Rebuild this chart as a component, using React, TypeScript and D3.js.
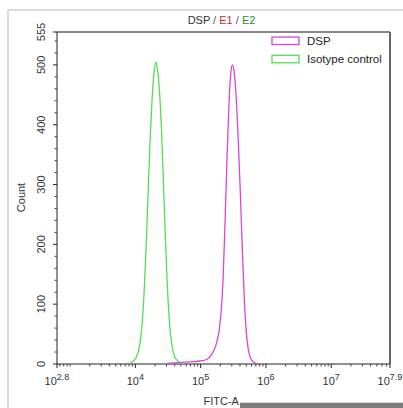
import React from "react";
import * as d3 from "d3";

// Histogram data: log10(FITC-A) vs Count
const isoLog = [3.918, 3.979, 4.025, 4.071, 4.102, 4.132, 4.163, 4.194, 4.224, 4.255, 4.286, 4.312, 4.339, 4.37, 4.401, 4.431, 4.462, 4.492, 4.53, 4.576, 4.638, 4.745];
const isoCount = [1, 6, 14, 35, 65, 115, 190, 280, 370, 440, 487, 505, 492, 455, 390, 300, 205, 125, 60, 22, 6, 0];

const dspLog = [4.485, 4.76, 4.99, 5.097, 5.174, 5.235, 5.281, 5.312, 5.343, 5.373, 5.404, 5.434, 5.465, 5.485, 5.511, 5.542, 5.572, 5.603, 5.634, 5.664, 5.695, 5.733, 5.779, 5.848, 5.879];
const dspCount = [1, 3, 5, 8, 17, 32, 55, 85, 140, 235, 345, 435, 490, 500, 490, 450, 385, 300, 205, 120, 60, 22, 7, 1, 0];

const xTickExps = [2.8, 4, 5, 6, 7, 7.9];
const xTickLabels = ["2.8", "4", "5", "6", "7", "7.9"];
const yTicks = [0, 100, 200, 300, 400, 500, 555];

const seriesNames = ["DSP", "Isotype control"];
const seriesColors = ["#d946d9", "#55dd55"];

export default function App() {
  const W = 403, H = 408;
  const left = 57, right = 390, top = 32, bottom = 364;
  const x = d3.scaleLinear().domain([2.8, 7.9]).range([left, right]);
  const y = d3.scaleLinear().domain([0, 555]).range([bottom, top]);

  const line = d3
    .line<[number, number]>()
    .x((d) => x(d[0]))
    .y((d) => y(d[1]))
    .curve(d3.curveMonotoneX);

  const isoPath = line(isoLog.map((v, i) => [v, isoCount[i]] as [number, number])) || "";
  const dspPath = line(dspLog.map((v, i) => [v, dspCount[i]] as [number, number])) || "";

  // minor x ticks (log)
  const minorX: number[] = [];
  for (let e = 2; e <= 7; e++) {
    for (let m = 1; m <= 9; m++) {
      const v = e + Math.log10(m);
      if (v > 2.8 + 1e-6 && v < 7.9 - 1e-6 && !xTickExps.some((t) => Math.abs(t - v) < 1e-6)) minorX.push(v);
    }
  }
  const minorY = d3.range(20, 555, 20).filter((v) => v % 100 !== 0);

  const font = "'Liberation Sans', Arial, sans-serif";

  return (
    <svg width={W} height={H} style={{ position: "absolute", left: 0, top: 0 }} fontFamily={font}>
      <rect x={0} y={0} width={W} height={H} fill="#fff" />
      {/* outer light frame */}
      <line x1={8} y1={10} x2={W} y2={10} stroke="#dcdcdc" strokeWidth={2} />
      <line x1={8} y1={10} x2={8} y2={H} stroke="#dcdcdc" strokeWidth={2} />

      {/* title */}
      <text x={221.5} y={23.5} fontSize={11} textAnchor="middle" fill="#333">
        <tspan fill="#333">DSP</tspan>
        <tspan fill="#555"> / </tspan>
        <tspan fill="#d42a2a">E1</tspan>
        <tspan fill="#555"> / </tspan>
        <tspan fill="#2e8b2e">E2</tspan>
      </text>

      {/* plot frame */}
      <line x1={left} y1={top} x2={right} y2={top} stroke="#111" strokeWidth={1} />
      <line x1={right} y1={top} x2={right} y2={bottom} stroke="#666" strokeWidth={2} />
      <line x1={left} y1={top} x2={left} y2={bottom} stroke="#222" strokeWidth={1} />
      <line x1={left} y1={bottom} x2={right} y2={bottom} stroke="#222" strokeWidth={1} />

      {/* y ticks */}
      {yTicks.map((t) => (
        <g key={"yt" + t}>
          <line x1={left - 4} x2={left} y1={y(t)} y2={y(t)} stroke="#222" />
          <text
            transform={`translate(${45},${y(t)}) rotate(-90)`}
            textAnchor="middle"
            fontSize={11}
            fill="#333"
          >
            {t}
          </text>
        </g>
      ))}
      {minorY.map((t) => (
        <line key={"ym" + t} x1={left - 2.5} x2={left} y1={y(t)} y2={y(t)} stroke="#444" />
      ))}

      {/* x ticks */}
      {xTickExps.map((e, i) => (
        <g key={"xt" + e}>
          <line x1={x(e)} x2={x(e)} y1={bottom} y2={bottom + 4} stroke="#222" />
          <text x={x(e)} y={384.5} textAnchor="middle" fontSize={11} fill="#333">
            <tspan>10</tspan>
            <tspan dy={-5} fontSize={9}>{xTickLabels[i]}</tspan>
          </text>
        </g>
      ))}
      {minorX.map((v, i) => (
        <line key={"xm" + i} x1={x(v)} x2={x(v)} y1={bottom} y2={bottom + 2.5} stroke="#444" />
      ))}

      {/* axis labels */}
      <text transform={`translate(25,197.5) rotate(-90)`} textAnchor="middle" fontSize={11} fill="#333">
        Count
      </text>
      <text x={203.5} y={405} fontSize={11} fill="#333">
        FITC-A
      </text>

      {/* curves */}
      <path d={isoPath} fill="none" stroke={seriesColors[1]} strokeWidth={1.3} />
      <path d={dspPath} fill="none" stroke={seriesColors[0]} strokeWidth={1.3} />

      {/* legend */}
      {seriesNames.map((n, i) => (
        <g key={n}>
          <rect x={272} y={37 + i * 18.3} width={27} height={7.5} fill="none" stroke={seriesColors[i]} strokeWidth={1.3} />
          <text x={307} y={44.8 + i * 18.3} fontSize={11.5} fill="#222">
            {n}
          </text>
        </g>
      ))}

      {/* bottom scroll bar */}
      <rect x={240} y={402.7} width={W - 240} height={H - 402.7} fill="#7a7a7a" />
    </svg>
  );
}
